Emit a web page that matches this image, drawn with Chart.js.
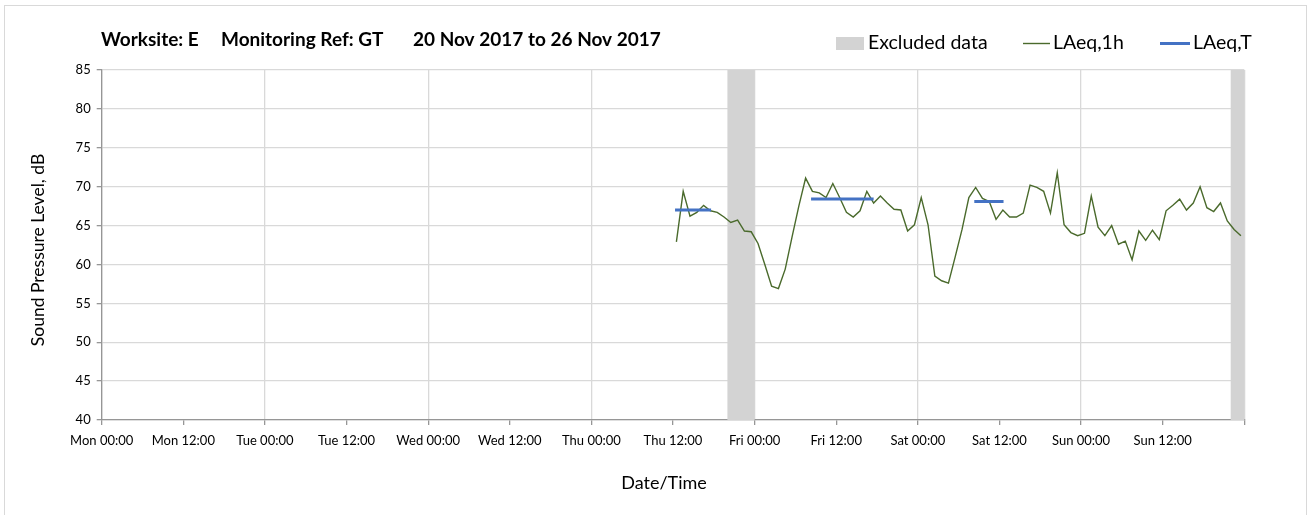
<!DOCTYPE html>
<html>
<head>
<meta charset="utf-8">
<script src="https://cdn.jsdelivr.net/npm/chart.js@4/dist/chart.umd.min.js"></script>
<style>
  html, body { margin: 0; padding: 0; background: #fff; }
  #wrap { position: relative; width: 1309px; height: 515px; }
</style>
</head>
<body>
<div id="wrap"><canvas id="c" width="1309" height="515"></canvas></div>
<script>
// ---- data ----
const dayNames = ['Mon', 'Tue', 'Wed', 'Thu', 'Fri', 'Sat', 'Sun'];
const firstHour = 84; // Thu 12:00, hours since Mon 00:00
const laeq1h = [
  62.9, 69.4, 66.2, 66.7, 67.6, 66.9, 66.7, 66.1, 65.4, 65.7, 64.3, 64.2,
  62.7, 60.0, 57.2, 56.9, 59.4, 63.5, 67.5, 71.1, 69.4, 69.2, 68.6, 70.4,
  68.6, 66.7, 66.1, 66.9, 69.4, 67.9, 68.8, 67.9, 67.1, 67.0, 64.3, 65.1,
  68.6, 65.1, 58.5, 57.9, 57.6, 61.0, 64.5, 68.6, 69.9, 68.5, 68.1, 65.8,
  67.0, 66.1, 66.1, 66.6, 70.2, 69.9, 69.4, 66.6, 71.8, 65.1, 64.1, 63.7,
  64.0, 68.8, 64.8, 63.7, 65.0, 62.6, 63.0, 60.6, 64.3, 63.1, 64.4, 63.2,
  66.9, 67.6, 68.4, 67.0, 67.9, 70.0, 67.3, 66.8, 67.9, 65.6, 64.5, 63.7
];
const laeqTStart = [84.3, 104.3, 128.3];
const laeqTEnd   = [89.6, 113.5, 132.6];
const laeqTValue = [67.0, 68.4, 68.1];
const excludedStart = [92, 166];
const excludedEnd   = [96, 168];
const yTicks = [40, 45, 50, 55, 60, 65, 70, 75, 80, 85];

// ---- build datasets ----
const lineData = laeq1h.map((v, i) => ({ x: firstHour + i + 0.5, y: v }));
const tData = [];
laeqTValue.forEach((v, i) => {
  tData.push({ x: laeqTStart[i], y: v });
  tData.push({ x: laeqTEnd[i], y: v });
  tData.push({ x: laeqTEnd[i], y: null });
});

const FONT = 'Lato, "Open Sans", sans-serif';

const decor = {
  id: 'decor',
  beforeDatasetsDraw(chart) {
    const { ctx, chartArea, scales } = chart;
    ctx.save();
    ctx.fillStyle = '#d3d3d3';
    excludedStart.forEach((s, i) => {
      const x0 = scales.x.getPixelForValue(s);
      const x1 = scales.x.getPixelForValue(excludedEnd[i]);
      ctx.fillRect(x0, chartArea.top, x1 - x0, chartArea.bottom - chartArea.top);
    });
    ctx.restore();
  },
  afterDraw(chart) {
    const { ctx, chartArea } = chart;
    ctx.save();
    // outer frame
    ctx.strokeStyle = '#d9d9d9';
    ctx.lineWidth = 1;
    ctx.strokeRect(4.5, 5.5, 1302, 520);
    // title
    ctx.fillStyle = '#000';
    ctx.font = 'bold 19px ' + FONT;
    ctx.textBaseline = 'middle';
    ctx.textAlign = 'left';
    ctx.fillText('Worksite: E', 101, 40);
    ctx.fillText('Monitoring Ref: GT', 221, 40);
    ctx.fillText('20 Nov 2017 to 26 Nov 2017', 413, 40);
    // legend
    ctx.font = '19.5px ' + FONT;
    ctx.fillStyle = '#d3d3d3';
    ctx.fillRect(836, 37, 28, 13);
    ctx.fillStyle = '#000';
    ctx.fillText('Excluded data', 868, 43);
    ctx.strokeStyle = '#4a6a2c';
    ctx.lineWidth = 1.4;
    ctx.beginPath(); ctx.moveTo(1023, 43.5); ctx.lineTo(1050, 43.5); ctx.stroke();
    ctx.fillText('LAeq,1h', 1053, 43);
    ctx.strokeStyle = '#4472c4';
    ctx.lineWidth = 3;
    ctx.beginPath(); ctx.moveTo(1160, 43.5); ctx.lineTo(1190, 43.5); ctx.stroke();
    ctx.fillText('LAeq,T', 1193, 43);
    // axis titles
    ctx.font = '18px ' + FONT;
    ctx.textAlign = 'center';
    ctx.fillText('Date/Time', 664, 483);
    ctx.font = '17.5px ' + FONT;
    ctx.translate(38, 250);
    ctx.rotate(-Math.PI / 2);
    ctx.fillText('Sound Pressure Level, dB', 0, 0);
    ctx.restore();
  }
};

new Chart(document.getElementById('c'), {
  type: 'line',
  data: {
    datasets: [
      {
        label: 'LAeq,T',
        data: tData,
        borderColor: '#4472c4',
        borderWidth: 3,
        pointRadius: 0,
        spanGaps: false,
        borderCapStyle: 'butt',
        order: 0
      },
      {
        label: 'LAeq,1h',
        data: lineData,
        borderColor: '#4a6a2c',
        borderWidth: 1.4,
        pointRadius: 0,
        tension: 0,
        order: 1
      }
    ]
  },
  options: {
    responsive: false,
    animation: false,
    events: [],
    layout: { padding: { left: 0, top: 70, right: 64.7, bottom: 0 } },
    plugins: { legend: { display: false }, title: { display: false }, tooltip: { enabled: false } },
    scales: {
      x: {
        type: 'linear',
        min: 0,
        max: 168,
        afterFit(scale) { scale.height = 95; },
        ticks: {
          stepSize: 12,
          autoSkip: false,
          maxRotation: 0,
          padding: 8,
          color: '#000',
          font: { family: FONT, size: 13 },
          callback(v) {
            if (v >= 168) return '';
            const d = dayNames[Math.floor(v / 24)];
            return d + ' ' + (v % 24 === 0 ? '00:00' : '12:00');
          }
        },
        grid: {
          color: (c) => (c.tick && c.tick.value % 24 === 0 ? '#d9d9d9' : 'rgba(0,0,0,0)'),
          lineWidth: 1.3,
          tickColor: '#969696',
          tickLength: 5,
          drawTicks: true
        },
        border: { color: '#969696', width: 1.3 }
      },
      y: {
        min: 40,
        max: 85,
        afterFit(scale) { scale.width = 101.7; },
        afterBuildTicks(scale) { scale.ticks = yTicks.map(v => ({ value: v })); },
        ticks: {
          padding: 6,
          color: '#000',
          font: { family: FONT, size: 13 }
        },
        grid: {
          color: '#d9d9d9',
          lineWidth: 1.3,
          tickColor: '#969696',
          tickLength: 5
        },
        border: { color: '#969696', width: 1.3 }
      }
    }
  },
  plugins: [decor]
});
</script>
</body>
</html>
